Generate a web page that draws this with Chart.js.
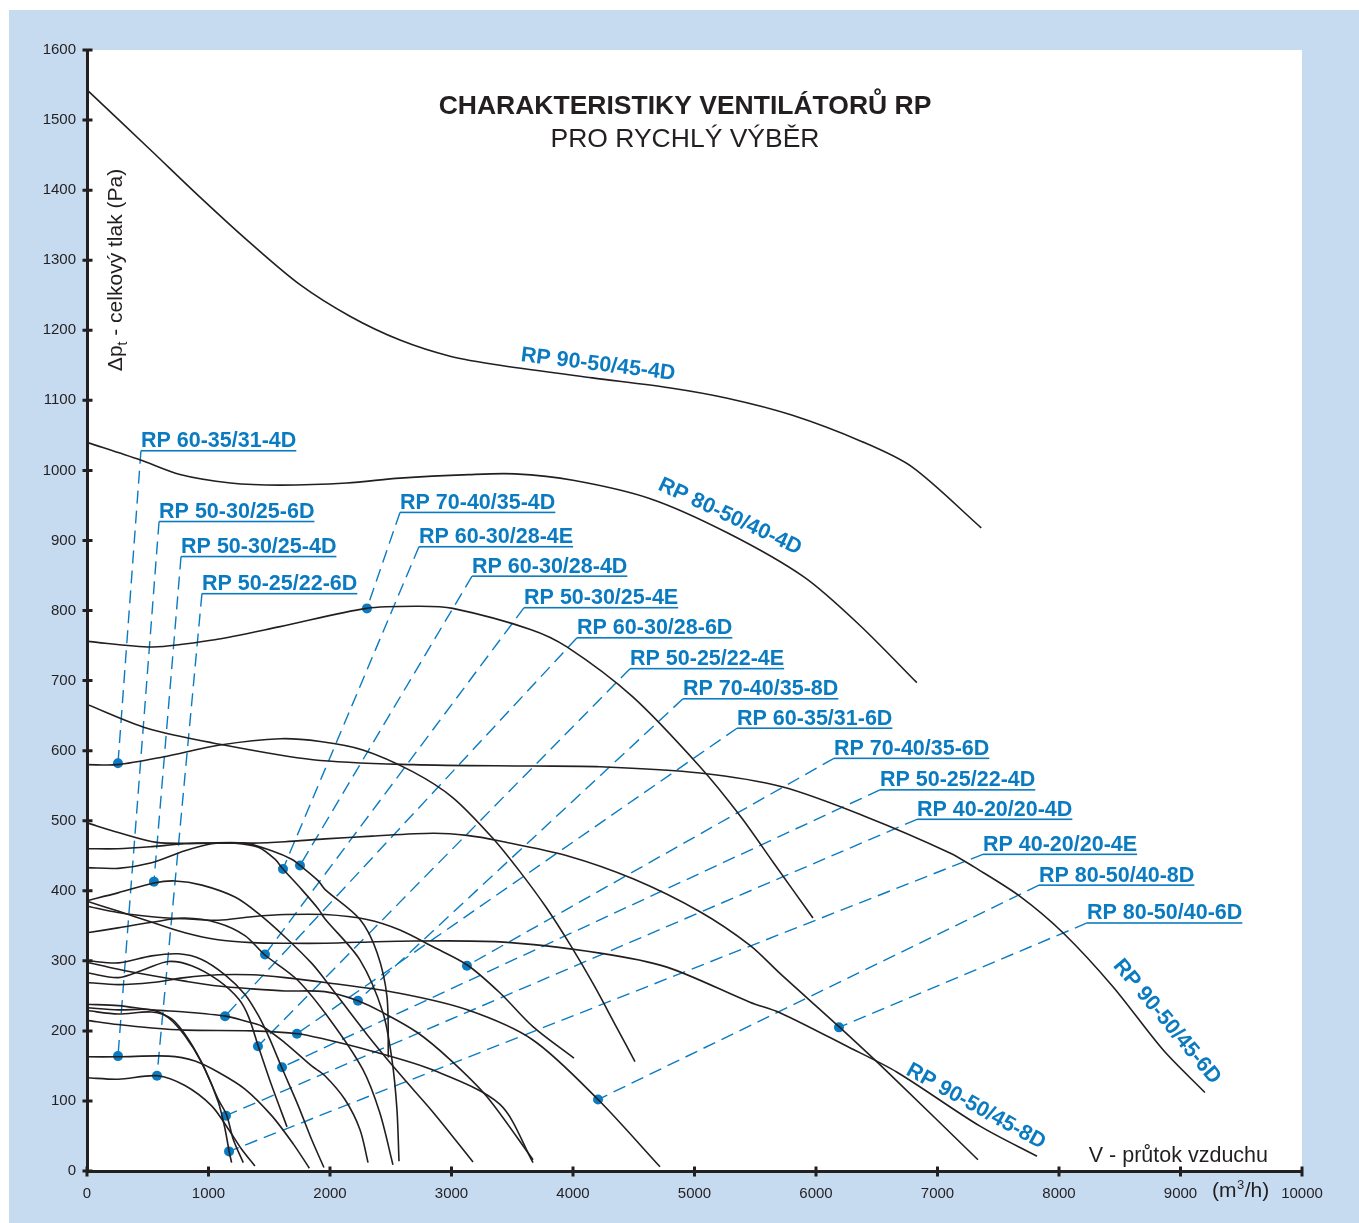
<!DOCTYPE html>
<html>
<head>
<meta charset="utf-8">
<script src="https://cdn.jsdelivr.net/npm/chart.js@4.4.1/dist/chart.umd.min.js"></script>
<style>
  html, body { margin: 0; padding: 0; background: #fff; }
  #wrap { width: 1359px; height: 1223px; }
</style>
</head>
<body>
<div id="wrap"><canvas id="chart" width="1359" height="1223"></canvas></div>
<script>
// osy
const xTickLabels = ['0','1000','2000','3000','4000','5000','6000','7000','8000','9000','10000'];
const yTickLabels = ['0','100','200','300','400','500','600','700','800','900','1000','1100','1200','1300','1400','1500','1600'];

// charakteristiky [průtok m3/h, tlak Pa]
const rp90_50_45_4D = [[0,1543],[519,1458],[930,1390],[1341,1325],[1753,1265],[2164,1220],[2576,1186],[2988,1163],[3399,1150],[4160,1132],[4790,1118],[5270,1103],[5800,1079],[6380,1041],[6790,1005],[7360,918]];
const rp80_50_40_4D = [[0,1040],[436,1015],[765,994],[1180,982],[1590,979],[2140,982],[2576,989],[3144,994],[3520,995],[4000,986],[4630,960],[5270,911],[5900,848],[6360,779],[6830,697]];
const rp60_35_31_4D = [[0,580],[250,580],[625,591],[1095,608],[1590,617],[1920,613],[2270,601],[2680,570],[3010,533],[3340,475],[3560,428],[3780,376],[3980,322],[4170,266],[4350,208],[4510,156]];
const rp70_40_35_4D = [[0,756],[540,748],[1040,758],[1590,777],[2300,803],[2740,806],[3010,803],[3650,773],[3950,748],[4490,677],[5045,577],[5375,507],[5650,440],[5975,361]];
const rp90_50_45_6D = [[0,666],[494,632],[1037,611],[1860,587],[2683,580],[3646,578],[4222,577],[5045,568],[5728,548],[6420,505],[7102,454],[7300,434],[7679,392],[8033,340],[8444,263],[8856,173],[9201,112]];
const rp80_50_40_6D = [[0,460],[255,460],[535,463],[806,467],[1078,468],[1358,468],[1630,470],[1960,474],[2346,478],[2848,482],[3128,479],[3399,471],[3951,450],[4494,417],[5045,370],[5457,322],[5703,282],[6189,206],[6609,138],[7333,16]];
const rp90_50_45_8D = [[0,385],[255,371],[535,355],[806,340],[1078,330],[1358,326],[1630,325],[1960,325],[2560,328],[3399,327],[4222,311],[4773,291],[5456,241],[5703,226],[6255,178],[6667,141],[7350,64],[7819,21]];
const rp70_40_35_6D = [[0,378],[255,369],[535,363],[806,360],[1078,358],[1358,363],[1630,366],[1960,366],[2304,359],[2576,344],[2848,320],[3130,294],[3400,254],[3670,206],[4008,161]];
const rp50_30_25_4E = [[0,340],[255,347],[535,355],[806,361],[1078,354],[1300,336],[1460,309],[1730,273],[2000,216],[2270,145],[2410,83],[2518,9]];
const rp50_30_25_4D = [[0,386],[255,397],[551,411],[724,414],[946,408],[1218,391],[1407,368],[1630,334],[1852,296],[1959,273],[2304,195],[2576,138],[2848,84],[3177,13]];
const rp60_30_28_4E = [[0,433],[258,432],[532,440],[806,457],[1026,467],[1218,468],[1410,462],[1547,445],[1613,431],[1766,402],[1904,374],[1958,360],[2247,301],[2436,226],[2510,159],[2551,88],[2568,14]];
const rp60_30_28_4D = [[0,497],[258,483],[573,469],[944,468],[1300,468],[1520,457],[1684,445],[1761,435],[1904,414],[1958,402],[2247,359],[2387,312],[2469,249],[2480,162]];
const rp80_50_40_8D = [[0,269],[255,266],[535,269],[806,276],[1078,280],[1358,280],[1630,276],[1960,269],[2560,254],[3130,230],[3670,187],[4206,102],[4716,6]];
const rp70_40_35_8D = [[0,298],[258,288],[532,279],[806,271],[1081,264],[1355,260],[1629,257],[1958,256],[2230,243],[2436,226],[2716,198],[2988,159],[3292,106],[3671,16]];
const rp50_25_22_4E = [[0,283],[258,276],[477,288],[669,299],[861,293],[1081,272],[1250,245],[1330,220],[1410,178],[1520,122],[1646,63]];
const rp50_25_22_4D = [[0,300],[258,297],[532,307],[752,310],[944,302],[1136,280],[1300,252],[1410,222],[1500,190],[1602,148],[1739,93],[1849,45],[1950,5]];
const rp40_20_20_4D = [[0,233],[258,230],[532,230],[669,219],[806,193],[943,155],[1081,102],[1149,80],[1204,45],[1286,12]];
const rp40_20_20_4E = [[0,229],[258,224],[532,227],[697,217],[834,188],[971,145],[1081,98],[1136,60],[1171,27],[1190,12]];
const rp60_35_31_6D = [[0,215],[255,209],[535,204],[806,201],[1358,200],[1736,196],[1959,188],[2304,173],[2848,144],[3399,95],[3671,12]];
const rp50_30_25_6D = [[0,163],[258,163],[669,164],[889,157],[1081,141],[1300,117],[1520,79],[1700,38],[1830,4]];
const rp50_25_22_6D = [[0,133],[258,131],[579,136],[806,122],[1026,93],[1163,60],[1273,31],[1382,7]];
const rp60_30_28_6D = [[0,238],[258,236],[532,230],[806,227],[1141,221],[1300,214],[1437,207],[1629,183],[1849,150],[1958,136],[2123,102],[2247,59],[2313,12]];

const curves = [rp90_50_45_4D, rp80_50_40_4D, rp60_35_31_4D, rp70_40_35_4D, rp90_50_45_6D,
  rp80_50_40_6D, rp90_50_45_8D, rp70_40_35_6D, rp50_30_25_4E, rp50_30_25_4D, rp60_30_28_4E,
  rp60_30_28_4D, rp80_50_40_8D, rp70_40_35_8D, rp50_25_22_4E, rp50_25_22_4D, rp40_20_20_4D,
  rp40_20_20_4E, rp60_35_31_6D, rp50_30_25_6D, rp50_25_22_6D, rp60_30_28_6D];

// popisky s odkazem (začátek podtržení) a bod na křivce
const labelNames = ['RP 60-35/31-4D','RP 50-30/25-6D','RP 50-30/25-4D','RP 50-25/22-6D','RP 70-40/35-4D',
  'RP 60-30/28-4E','RP 60-30/28-4D','RP 50-30/25-4E','RP 60-30/28-6D','RP 50-25/22-4E','RP 70-40/35-8D',
  'RP 60-35/31-6D','RP 70-40/35-6D','RP 50-25/22-4D','RP 40-20/20-4D','RP 40-20/20-4E','RP 80-50/40-8D','RP 80-50/40-6D'];
const labelX = [444, 593, 774, 946, 2576, 2732, 3169, 3597, 4033, 4469, 4905, 5350, 6148, 6526, 6831, 7374, 7835, 8230];
const labelY = [1028, 927, 877, 824, 940, 891, 849, 804, 761, 717, 674, 632, 589, 544, 502, 452, 408, 354];
const dotX = [255, 255, 551, 576, 2304, 1613, 1753, 1465, 1136, 1407, 2230, 1728, 3127, 1605, 1144, 1169, 4206, 6189];
const dotY = [582, 164, 413, 136, 803, 431, 436, 309, 221, 178, 243, 196, 293, 148, 79, 28, 102, 205];

// popisky přímo u křivek
const inlineNames = ['RP 90-50/45-4D','RP 80-50/40-4D','RP 90-50/45-6D','RP 90-50/45-8D'];
const inlineX = [4206, 5292, 8888, 7316];
const inlineY = [1151, 934, 213, 92];
const inlineAngle = [7, 25, 50, 29];

const FONT = '"Liberation Sans", Arial, Helvetica, sans-serif';
const INK = '#231f20';
const BLUE = '#0a7bc1';
const FRAME = '#c6daf0';

const toPts = arr => arr.map(p => ({ x: p[0], y: p[1] }));

const datasets = [];
curves.forEach(c => {
  datasets.push({
    data: toPts(c), showLine: true, borderColor: INK, borderWidth: 1.6,
    pointRadius: 0, tension: 0.3, fill: false
  });
});
labelNames.forEach((n, i) => {
  datasets.push({
    data: [{ x: labelX[i], y: labelY[i] }, { x: dotX[i], y: dotY[i] }],
    showLine: true, borderColor: BLUE, borderWidth: 1.4, borderDash: [13, 7],
    pointRadius: 0, tension: 0
  });
});
datasets.push({
  data: dotX.map((x, i) => ({ x, y: dotY[i] })),
  showLine: false, pointRadius: 5, pointBackgroundColor: BLUE, pointBorderWidth: 0
});

const framePlugin = {
  id: 'frame',
  beforeDraw(chart) {
    const { ctx, width, height, chartArea: a } = chart;
    ctx.save();
    ctx.fillStyle = '#fff';
    ctx.fillRect(0, 0, width, height);
    ctx.fillStyle = FRAME;
    ctx.fillRect(9, 10, width - 9, height - 10);
    ctx.fillStyle = '#fff';
    ctx.fillRect(a.left, a.top, a.right - a.left, a.bottom - a.top);
    ctx.restore();
  }
};

const decorPlugin = {
  id: 'decor',
  afterDatasetsDraw(chart) {
    const { ctx, chartArea: a } = chart;
    const xs = chart.scales.x, ys = chart.scales.y;
    ctx.save();

    // osy a značky
    ctx.strokeStyle = INK;
    ctx.lineWidth = 3;
    ctx.beginPath();
    ctx.moveTo(a.left + 0.5, a.top);
    ctx.lineTo(a.left + 0.5, a.bottom + 1.5);
    ctx.moveTo(a.left - 1, a.bottom + 0.5);
    ctx.lineTo(a.right, a.bottom + 0.5);
    ys.ticks.forEach(t => {
      const py = ys.getPixelForValue(t.value);
      ctx.moveTo(a.left - 4.5, py);
      ctx.lineTo(a.left + 5.5, py);
    });
    xs.ticks.forEach(t => {
      const px = xs.getPixelForValue(t.value);
      ctx.moveTo(px, a.bottom - 4.5);
      ctx.lineTo(px, a.bottom + 5.5);
    });
    ctx.stroke();

    // popisky s podtržením
    ctx.font = 'bold 21.5px ' + FONT;
    ctx.fillStyle = BLUE;
    ctx.textAlign = 'left';
    ctx.textBaseline = 'alphabetic';
    labelNames.forEach((n, i) => {
      const px = xs.getPixelForValue(labelX[i]);
      const py = ys.getPixelForValue(labelY[i]);
      ctx.fillText(n, px, py - 3.5);
      const w = ctx.measureText(n).width;
      ctx.fillRect(px, py - 0.8, w, 1.6);
    });

    // natočené popisky
    ctx.textAlign = 'center';
    ctx.textBaseline = 'middle';
    inlineNames.forEach((n, i) => {
      ctx.save();
      ctx.translate(xs.getPixelForValue(inlineX[i]), ys.getPixelForValue(inlineY[i]));
      ctx.rotate(inlineAngle[i] * Math.PI / 180);
      ctx.fillText(n, 0, 0);
      ctx.restore();
    });

    // nadpis
    ctx.fillStyle = INK;
    ctx.textBaseline = 'alphabetic';
    ctx.font = 'bold 26.5px ' + FONT;
    ctx.fillText('CHARAKTERISTIKY VENTILÁTORŮ RP', 685, 114);
    ctx.font = '26.5px ' + FONT;
    ctx.fillText('PRO RYCHLÝ VÝBĚR', 685, 147);

    // popis osy x
    ctx.font = '21.5px ' + FONT;
    ctx.textAlign = 'right';
    ctx.fillText('V - průtok vzduchu', 1268, 1162);
    ctx.textAlign = 'left';
    let ux = 1212;
    ctx.font = '21px ' + FONT;
    ctx.fillText('(m', ux, 1197);
    ux += ctx.measureText('(m').width;
    ctx.font = '13px ' + FONT;
    ctx.fillText('3', ux + 0.5, 1189);
    ux += ctx.measureText('3').width + 1;
    ctx.font = '21px ' + FONT;
    ctx.fillText('/h)', ux, 1197);

    // popis osy y
    ctx.save();
    ctx.translate(122, 270);
    ctx.rotate(-Math.PI / 2);
    const big = '21px ' + FONT, small = '14px ' + FONT;
    ctx.font = big;
    const w1 = ctx.measureText('\u0394p').width;
    const w3 = ctx.measureText(' - celkový tlak (Pa)').width;
    ctx.font = small;
    const w2 = ctx.measureText('t').width;
    let tx = -(w1 + w2 + w3) / 2;
    ctx.font = big;
    ctx.fillText('\u0394p', tx, 0);
    tx += w1;
    ctx.font = small;
    ctx.fillText('t', tx, 5);
    tx += w2;
    ctx.font = big;
    ctx.fillText(' - celkový tlak (Pa)', tx, 0);
    ctx.restore();

    ctx.restore();
  }
};

new Chart(document.getElementById('chart'), {
  type: 'scatter',
  data: { datasets },
  options: {
    responsive: false,
    animation: false,
    devicePixelRatio: 1,
    layout: { padding: { left: 0, top: 50, right: 57, bottom: 0 } },
    plugins: { legend: { display: false }, tooltip: { enabled: false } },
    scales: {
      x: {
        type: 'linear', min: 0, max: 10000,
        afterFit: s => { s.height = 52; },
        grid: { display: false, drawTicks: false },
        border: { display: false },
        ticks: {
          stepSize: 1000, padding: 14, color: INK, maxRotation: 0, autoSkip: false,
          font: { family: FONT, size: 15 },
          callback: (v, i) => xTickLabels[i]
        }
      },
      y: {
        type: 'linear', min: 0, max: 1600,
        afterFit: s => { s.width = 87; },
        grid: { display: false, drawTicks: false },
        border: { display: false },
        ticks: {
          stepSize: 100, padding: 11, color: INK, autoSkip: false,
          font: { family: FONT, size: 15 },
          callback: (v, i) => yTickLabels[i]
        }
      }
    }
  },
  plugins: [framePlugin, decorPlugin]
});
</script>
</body>
</html>
